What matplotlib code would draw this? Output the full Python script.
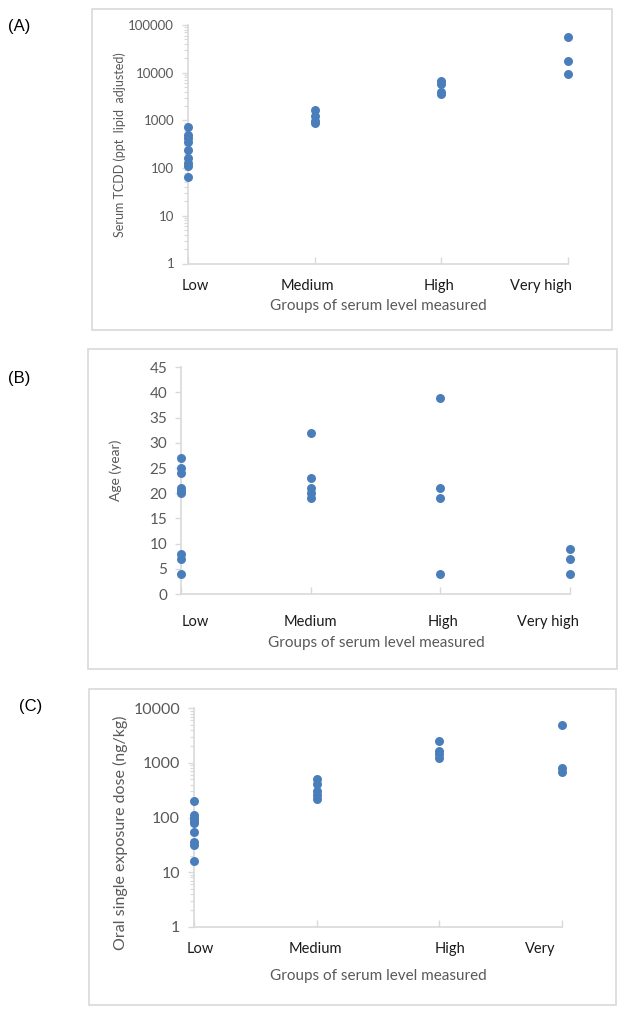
import numpy as np
import matplotlib
matplotlib.use('Agg')
import matplotlib.pyplot as plt
from matplotlib.patches import Rectangle
from matplotlib.ticker import LogLocator, NullFormatter, FixedLocator

plt.rcParams['font.family'] = ['Lato', 'DejaVu Sans']

# Groups on the x axis
groups = ['Low', 'Medium', 'High', 'Very high']
groups_c = ['Low', 'Medium', 'High', 'Very']

# (A) serum TCDD, ppt lipid adjusted
tcdd_low = [740, 500, 420, 350, 240, 160, 125, 110, 65]
tcdd_med = [1650, 1250, 950, 870]
tcdd_high = [6800, 5800, 4000, 3600]
tcdd_vhigh = [57000, 17500, 9300]

# (B) age, year
age_low = [27, 25, 24, 21, 20.5, 20, 8, 7, 4]
age_med = [32, 23, 21, 20, 19]
age_high = [39, 21, 19, 4]
age_vhigh = [9, 7, 4]

# (C) oral single exposure dose, ng/kg
dose_low = [200, 110, 97, 85, 78, 55, 36, 31, 16]
dose_med = [500, 410, 300, 260, 220]
dose_high = [2500, 1650, 1450, 1250]
dose_vhigh = [4900, 800, 690]

W, H = 624, 1016
BLUE = '#4A7EBB'
GREY = '#595959'
LINE = '#D9D9D9'

fig = plt.figure(figsize=(W / 100, H / 100), dpi=100)


def px_axes(left, top, right, bottom):
    return fig.add_axes([left / W, 1 - bottom / H, (right - left) / W, (bottom - top) / H])


def frame(left, top, right, bottom):
    fig.patches.append(Rectangle((left / W, 1 - bottom / H), (right - left) / W, (bottom - top) / H,
                                 transform=fig.transFigure, fill=False, edgecolor=LINE, lw=1.2))


def panel(ax, series, labels, label_pos, ylab, ylab_size, ytick_size, xlab_xy, ylab_xy, tick_pad):
    for i, vals in enumerate(series):
        ax.scatter([i + 1] * len(vals), vals, s=42, color=BLUE, zorder=3, clip_on=False, lw=0)
    ax.set_xlim(1, 4)
    for s in ['top', 'right']:
        ax.spines[s].set_visible(False)
    for s in ['left', 'bottom']:
        ax.spines[s].set_color(LINE)
        ax.spines[s].set_linewidth(1.2)
    ax.set_xticks(label_pos)
    ax.set_xticklabels(labels, fontsize=10.5, color='#1a1a1a')
    ax.tick_params(axis='x', which='major', length=0, pad=tick_pad)
    ax.xaxis.set_minor_locator(FixedLocator([1, 2, 3, 4]))
    ax.tick_params(axis='x', which='minor', length=5, direction='in', color=LINE, width=1)
    ax.tick_params(axis='y', which='major', length=4, color=LINE, width=1,
                   labelsize=ytick_size, labelcolor=GREY, pad=6)
    ax.tick_params(axis='y', which='minor', length=3, color=LINE, width=0.8)
    ax.set_xlabel('Groups of serum level measured', fontsize=11, color=GREY, va='center')
    ax.xaxis.set_label_coords(*xlab_xy)
    ax.set_ylabel(ylab, fontsize=ylab_size, color=GREY, va='center')
    ax.yaxis.set_label_coords(*ylab_xy)


# (A)
frame(92, 9, 612, 330)
axA = px_axes(188, 25, 568, 263.5)
axA.set_yscale('log')
axA.set_ylim(1, 100000)
axA.set_yticks([1, 10, 100, 1000, 10000, 100000])
axA.set_yticklabels(['1', '10', '100', '1000', '10000', '100000'])
axA.yaxis.set_minor_locator(LogLocator(base=10, subs=np.arange(2, 10), numticks=20))
axA.yaxis.set_minor_formatter(NullFormatter())
panel(axA, [tcdd_low, tcdd_med, tcdd_high, tcdd_vhigh], groups, [1.055, 1.94, 2.98, 3.79],
      'Serum TCDD (ppt  lipid  adjusted)', 9, 9.5, (0.5, -0.178), (-0.179, 0.5), 11)
fig.text(8 / W, 1 - 27 / H, '(A)', fontsize=12, family='Liberation Sans', va='center')

# (B)
frame(88, 349, 617, 669)
axB = px_axes(181, 367.3, 570, 594)
axB.set_ylim(0, 45)
axB.set_yticks(np.arange(0, 46, 5))
panel(axB, [age_low, age_med, age_high, age_vhigh], groups, [1.108, 1.995, 3.02, 3.83],
      'Age (year)', 10, 11, (0.501, -0.216), (-0.167, 0.547), 15)
fig.text(8 / W, 1 - 379 / H, '(B)', fontsize=12, family='Liberation Sans', va='center')

# (C)
frame(89, 689, 616, 1005)
axC = px_axes(194, 708.3, 562, 926.7)
axC.set_yscale('log')
axC.set_ylim(1, 10000)
axC.set_yticks([1, 10, 100, 1000, 10000])
axC.set_yticklabels(['1', '10', '100', '1000', '10000'])
axC.yaxis.set_minor_locator(LogLocator(base=10, subs=np.arange(2, 10), numticks=20))
axC.yaxis.set_minor_formatter(NullFormatter())
panel(axC, [dose_low, dose_med, dose_high, dose_vhigh], groups_c, [1.05, 1.99, 3.09, 3.82],
      'Oral single exposure dose (ng/kg)', 11.5, 11.5, (0.5, -0.226), (-0.201, 0.429), 11)
fig.text(19 / W, 1 - 707 / H, '(C)', fontsize=12, family='Liberation Sans', va='center')

fig.savefig('out.png', dpi=100)
